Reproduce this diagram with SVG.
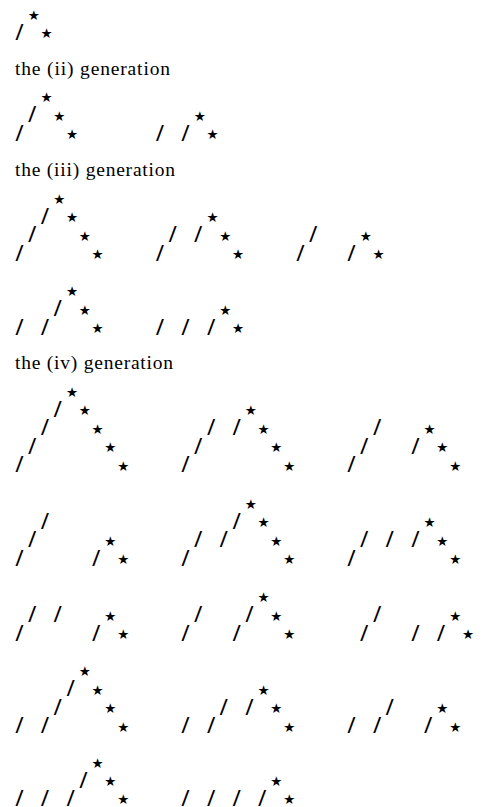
<svg xmlns="http://www.w3.org/2000/svg" width="492" height="807" viewBox="0 0 492 807">
<style>
.u{font-family:"Noto Sans",sans-serif;font-size:22.5px;text-anchor:middle;fill:#000}
.k{font-family:"DejaVu Sans",sans-serif;font-size:13.5px;text-anchor:middle;fill:#000}
.t{font-family:"Liberation Serif",serif;font-size:19.5px;fill:#000}
</style>
<rect width="492" height="807" fill="#fff"/>
<g id="gen1" transform="translate(0,33)">
 <g id="g1-1"><text class="u" x="19.5" y="6.5">/</text><text class="k" x="33.8" y="-13.5">★</text><text class="k" x="46.5" y="4.9">★</text></g>
</g>
<text class="t" x="15" y="75" textLength="155" lengthAdjust="spacing">the (ii) generation</text>
<g id="gen2" transform="translate(0,134)">
 <g id="g2-1"><text class="u" x="19.5" y="6.5">/</text><text class="u" x="32.3" y="-11.9">/</text><text class="k" x="46.5" y="-31.9">★</text><text class="k" x="59.3" y="-13.5">★</text><text class="k" x="72.1" y="4.9">★</text></g>
 <g id="g2-2"><text class="u" x="160" y="6.5">/</text><text class="u" x="185.5" y="6.5">/</text><text class="k" x="199.8" y="-13.5">★</text><text class="k" x="212.6" y="4.9">★</text></g>
</g>
<text class="t" x="15" y="175.5" textLength="160" lengthAdjust="spacing">the (iii) generation</text>
<g id="gen3a" transform="translate(0,254)">
 <g id="g3-1"><text class="u" x="19.5" y="6.5">/</text><text class="u" x="32.3" y="-11.9">/</text><text class="u" x="45" y="-30.3">/</text><text class="k" x="59.3" y="-50.3">★</text><text class="k" x="72.1" y="-31.9">★</text><text class="k" x="84.9" y="-13.5">★</text><text class="k" x="97.6" y="4.9">★</text></g>
 <g id="g3-2"><text class="u" x="160" y="6.5">/</text><text class="u" x="172.7" y="-11.9">/</text><text class="u" x="198.3" y="-11.9">/</text><text class="k" x="212.6" y="-31.9">★</text><text class="k" x="225.3" y="-13.5">★</text><text class="k" x="238.1" y="4.9">★</text></g>
 <g id="g3-3"><text class="u" x="300.4" y="6.5">/</text><text class="u" x="313.2" y="-11.9">/</text><text class="u" x="351.5" y="6.5">/</text><text class="k" x="365.8" y="-13.5">★</text><text class="k" x="378.6" y="4.9">★</text></g>
</g>
<g id="gen3b" transform="translate(0,328.3)">
 <g id="g3-4"><text class="u" x="19.5" y="6.5">/</text><text class="u" x="45" y="6.5">/</text><text class="u" x="57.8" y="-11.9">/</text><text class="k" x="72.1" y="-31.9">★</text><text class="k" x="84.9" y="-13.5">★</text><text class="k" x="97.6" y="4.9">★</text></g>
 <g id="g3-5"><text class="u" x="160" y="6.5">/</text><text class="u" x="185.5" y="6.5">/</text><text class="u" x="211.1" y="6.5">/</text><text class="k" x="225.3" y="-13.5">★</text><text class="k" x="238.1" y="4.9">★</text></g>
</g>
<text class="t" x="15" y="369" textLength="158" lengthAdjust="spacing">the (iv) generation</text>
<g id="gen4a" transform="translate(0,465.7)">
 <g id="g4-1"><text class="u" x="19.5" y="6.5">/</text><text class="u" x="32.3" y="-11.9">/</text><text class="u" x="45" y="-30.3">/</text><text class="u" x="57.8" y="-48.7">/</text><text class="k" x="72.1" y="-68.7">★</text><text class="k" x="84.9" y="-50.3">★</text><text class="k" x="97.6" y="-31.9">★</text><text class="k" x="110.4" y="-13.5">★</text><text class="k" x="123.2" y="4.9">★</text></g>
 <g id="g4-2"><text class="u" x="185.5" y="6.5">/</text><text class="u" x="198.3" y="-11.9">/</text><text class="u" x="211.1" y="-30.3">/</text><text class="u" x="236.6" y="-30.3">/</text><text class="k" x="250.9" y="-50.3">★</text><text class="k" x="263.6" y="-31.9">★</text><text class="k" x="276.4" y="-13.5">★</text><text class="k" x="289.2" y="4.9">★</text></g>
 <g id="g4-3"><text class="u" x="351.5" y="6.5">/</text><text class="u" x="364.3" y="-11.9">/</text><text class="u" x="377.1" y="-30.3">/</text><text class="u" x="415.4" y="-11.9">/</text><text class="k" x="429.6" y="-31.9">★</text><text class="k" x="442.4" y="-13.5">★</text><text class="k" x="455.2" y="4.9">★</text></g>
</g>
<g id="gen4b" transform="translate(0,559)">
 <g id="g4-4"><text class="u" x="19.5" y="6.5">/</text><text class="u" x="32.3" y="-11.9">/</text><text class="u" x="45" y="-30.3">/</text><text class="u" x="96.1" y="6.5">/</text><text class="k" x="110.4" y="-13.5">★</text><text class="k" x="123.2" y="4.9">★</text></g>
 <g id="g4-5"><text class="u" x="185.5" y="6.5">/</text><text class="u" x="198.3" y="-11.9">/</text><text class="u" x="223.8" y="-11.9">/</text><text class="u" x="236.6" y="-30.3">/</text><text class="k" x="250.9" y="-50.3">★</text><text class="k" x="263.6" y="-31.9">★</text><text class="k" x="276.4" y="-13.5">★</text><text class="k" x="289.2" y="4.9">★</text></g>
 <g id="g4-6"><text class="u" x="351.5" y="6.5">/</text><text class="u" x="364.3" y="-11.9">/</text><text class="u" x="389.8" y="-11.9">/</text><text class="u" x="415.4" y="-11.9">/</text><text class="k" x="429.6" y="-31.9">★</text><text class="k" x="442.4" y="-13.5">★</text><text class="k" x="455.2" y="4.9">★</text></g>
</g>
<g id="gen4c" transform="translate(0,634)">
 <g id="g4-7"><text class="u" x="19.5" y="6.5">/</text><text class="u" x="32.3" y="-11.9">/</text><text class="u" x="57.8" y="-11.9">/</text><text class="u" x="96.1" y="6.5">/</text><text class="k" x="110.4" y="-13.5">★</text><text class="k" x="123.2" y="4.9">★</text></g>
 <g id="g4-8"><text class="u" x="185.5" y="6.5">/</text><text class="u" x="198.3" y="-11.9">/</text><text class="u" x="236.6" y="6.5">/</text><text class="u" x="249.4" y="-11.9">/</text><text class="k" x="263.6" y="-31.9">★</text><text class="k" x="276.4" y="-13.5">★</text><text class="k" x="289.2" y="4.9">★</text></g>
 <g id="g4-9"><text class="u" x="364.3" y="6.5">/</text><text class="u" x="377.1" y="-11.9">/</text><text class="u" x="415.4" y="6.5">/</text><text class="u" x="440.9" y="6.5">/</text><text class="k" x="455.2" y="-13.5">★</text><text class="k" x="468" y="4.9">★</text></g>
</g>
<g id="gen4d" transform="translate(0,726.7)">
 <g id="g4-10"><text class="u" x="19.5" y="6.5">/</text><text class="u" x="45" y="6.5">/</text><text class="u" x="57.8" y="-11.9">/</text><text class="u" x="70.6" y="-30.3">/</text><text class="k" x="84.9" y="-50.3">★</text><text class="k" x="97.6" y="-31.9">★</text><text class="k" x="110.4" y="-13.5">★</text><text class="k" x="123.2" y="4.9">★</text></g>
 <g id="g4-11"><text class="u" x="185.5" y="6.5">/</text><text class="u" x="211.1" y="6.5">/</text><text class="u" x="223.8" y="-11.9">/</text><text class="u" x="249.4" y="-11.9">/</text><text class="k" x="263.6" y="-31.9">★</text><text class="k" x="276.4" y="-13.5">★</text><text class="k" x="289.2" y="4.9">★</text></g>
 <g id="g4-12"><text class="u" x="351.5" y="6.5">/</text><text class="u" x="377.1" y="6.5">/</text><text class="u" x="389.8" y="-11.9">/</text><text class="u" x="428.1" y="6.5">/</text><text class="k" x="442.4" y="-13.5">★</text><text class="k" x="455.2" y="4.9">★</text></g>
</g>
<g id="gen4e" transform="translate(0,799.5)">
 <g id="g4-13"><text class="u" x="19.5" y="6.5">/</text><text class="u" x="45" y="6.5">/</text><text class="u" x="70.6" y="6.5">/</text><text class="u" x="83.4" y="-11.9">/</text><text class="k" x="97.6" y="-31.9">★</text><text class="k" x="110.4" y="-13.5">★</text><text class="k" x="123.2" y="4.9">★</text></g>
 <g id="g4-14"><text class="u" x="185.5" y="6.5">/</text><text class="u" x="211.1" y="6.5">/</text><text class="u" x="236.6" y="6.5">/</text><text class="u" x="262.1" y="6.5">/</text><text class="k" x="276.4" y="-13.5">★</text><text class="k" x="289.2" y="4.9">★</text></g>
</g>
</svg>
